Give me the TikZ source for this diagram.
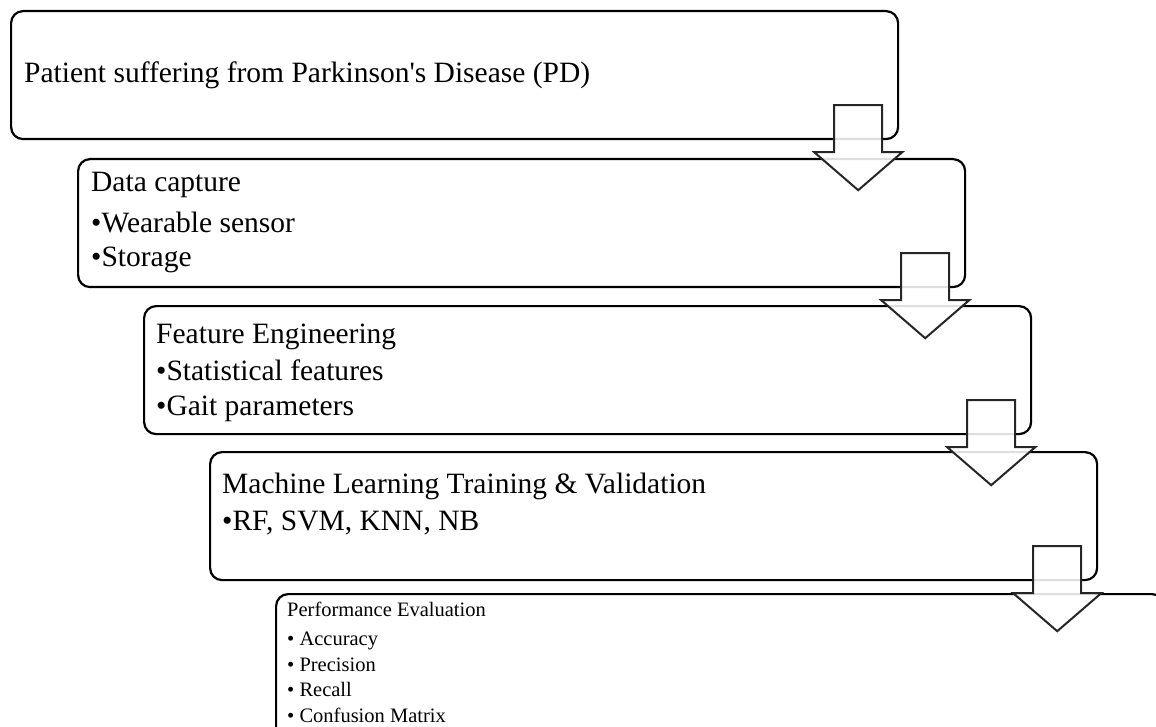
\documentclass[tikz,border=0pt]{standalone}
\usepackage{fontspec}
\setmainfont{Liberation Serif}
\usetikzlibrary{calc}
\begin{document}
\begin{tikzpicture}[x=1pt,y=-1pt,
  box/.style={draw=black, line width=2.2pt, rounded corners=12pt, inner sep=0pt,
              minimum width=887pt, minimum height=128pt, anchor=north west},
  big/.style={anchor=base west, inner sep=0pt, font=\fontsize{29.5}{35}\selectfont},
  small/.style={anchor=base west, inner sep=0pt, font=\fontsize{20.5}{24}\selectfont},
  arr/.style={draw=black!85, line width=2pt, fill=white, fill opacity=0.87, line join=miter},
  downarrow/.pic={\draw[arr] (-24,-35) -- (24,-35) -- (24,12) -- (44,12) -- (0,50) -- (-44,12) -- (-24,12) -- cycle;}
]
\useasboundingbox (0,0) rectangle (1156,727);
\clip (0,0) rectangle (1156,727);

% boxes
\node[box] (b1) at (10,10) {};
\node[box] (b2) at (77,158) {};
\node[box] (b3) at (143,305) {};
\node[box] (b4) at (209,451) {};
\node[box, minimum width=888pt, minimum height=145pt] (b5) at (275,593) {};

% texts
\node[big] (t1) at (24,83) {Patient suffering from Parkinson\textquotesingle s Disease (PD)};

\node[big] (t2) at (91,192) {Data capture};
\node[big] (t2a) at (91,233) {•Wearable sensor};
\node[big] (t2b) at (91,267) {•Storage};

\node[big] (t3) at (156,343) {Feature Engineering};
\node[big] (t3a) at (156,380) {•Statistical features};
\node[big] (t3b) at (156,415) {•Gait parameters};

\node[big] (t4) at (222,493) {Machine Learning Training \& Validation};
\node[big] (t4a) at (222,530) {•RF, SVM, KNN, NB};

\node[small] (t5) at (287,616) {Performance Evaluation};
\node[small] (t5a) at (287,645) {• Accuracy};
\node[small] (t5b) at (287,671) {• Precision};
\node[small] (t5c) at (287,696) {• Recall};
\node[small] (t5d) at (287,722) {• Confusion Matrix};

% block arrows
\pic at ($(b1.south east)+(-41,0)$) {downarrow};
\pic at ($(b2.south east)+(-41,0)$) {downarrow};
\pic at ($(b3.south east)+(-41,0)$) {downarrow};
\pic at ($(b4.south east)+(-41,0)$) {downarrow};
\end{tikzpicture}
\end{document}
